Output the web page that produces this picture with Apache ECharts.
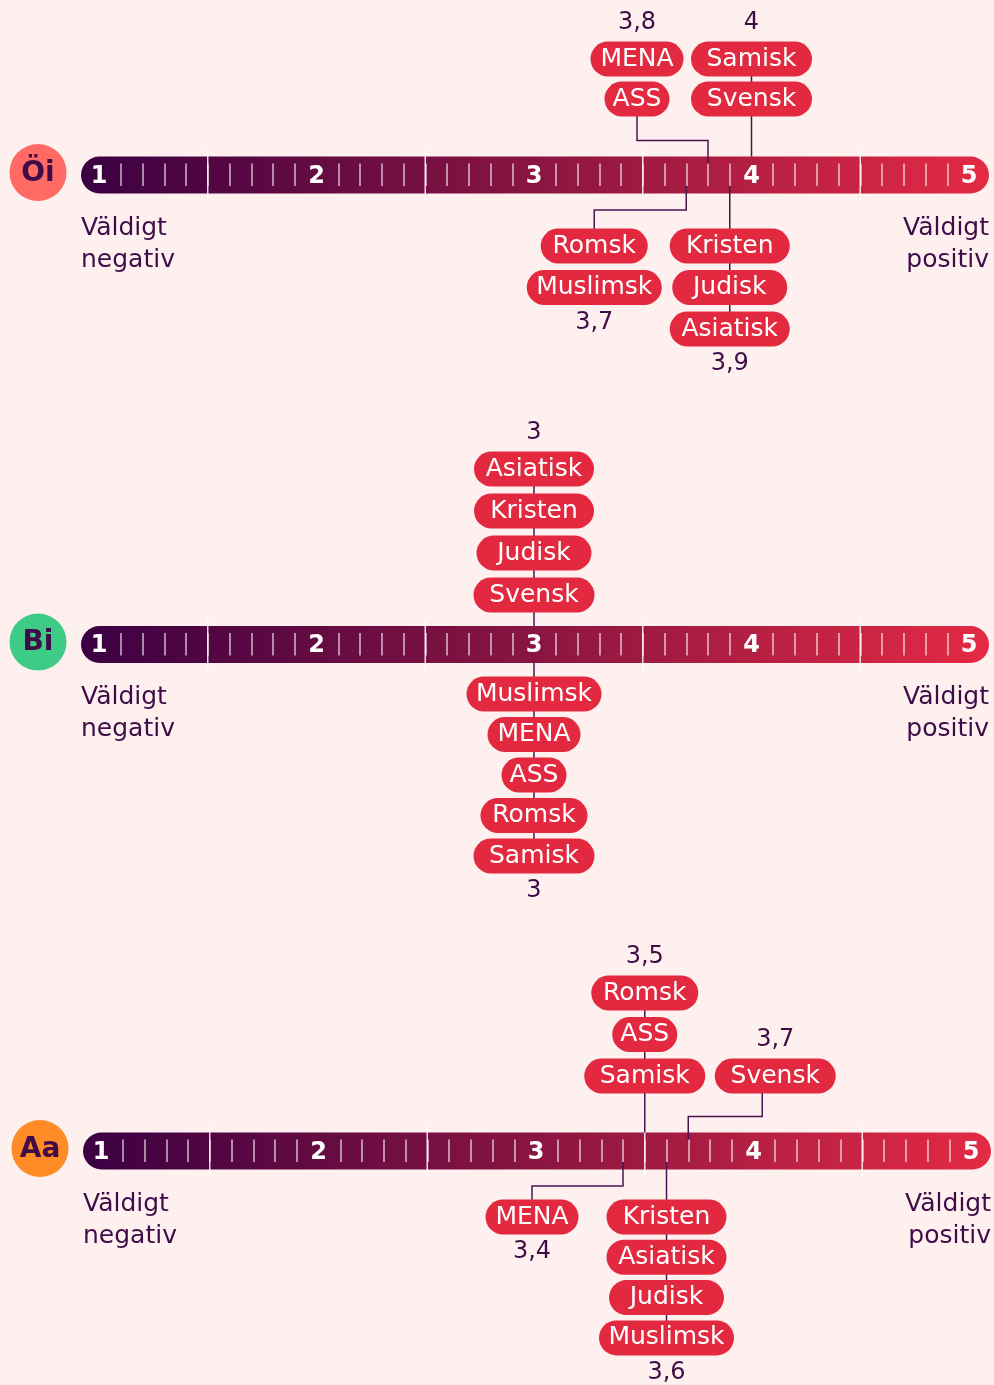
<!DOCTYPE html>
<html>
<head>
<meta charset="utf-8">
<title>Attityder</title>
<script src="https://cdn.jsdelivr.net/npm/echarts@6/dist/echarts.min.js"></script>
<style>
  html, body { margin: 0; padding: 0; background: #fdf0ef; }
  #main { width: 994px; height: 1385px; }
</style>
</head>
<body>
<div id="main"></div>
<script>
// skalan
var scaleMin = 1, scaleMax = 5;
var scaleLabels = ['1', '2', '3', '4', '5'];
var sectionBreaks = [1.5, 2.5, 3.5, 4.5];
var endLabels = ['Väldigt\nnegativ', 'Väldigt\npositiv'];

// Öi
var oiValues = [3.8, 4, 3.7, 3.9];
var oiSides = ['up', 'up', 'down', 'down'];
var oiLabels = [['MENA', 'ASS'], ['Samisk', 'Svensk'], ['Romsk', 'Muslimsk'], ['Kristen', 'Judisk', 'Asiatisk']];

// Bi
var biValues = [3, 3];
var biSides = ['up', 'down'];
var biLabels = [['Asiatisk', 'Kristen', 'Judisk', 'Svensk'], ['Muslimsk', 'MENA', 'ASS', 'Romsk', 'Samisk']];

// Aa
var aaValues = [3.5, 3.7, 3.4, 3.6];
var aaSides = ['up', 'up', 'down', 'down'];
var aaLabels = [['Romsk', 'ASS', 'Samisk'], ['Svensk'], ['MENA'], ['Kristen', 'Asiatisk', 'Judisk', 'Muslimsk']];

var panels = [
    {name: 'Öi', values: oiValues, sides: oiSides, labels: oiLabels},
    {name: 'Bi', values: biValues, sides: biSides, labels: biLabels},
    {name: 'Aa', values: aaValues, sides: aaSides, labels: aaLabels}
];

// placering (px) per panel
var layout = [
    {top: 150, left: 99, badge: '#ff6b64', shift: [-71, 0, -92, 0], stem: [0, 0, 0, 0], gapUp: 77, gapDown: 70, rowUp: 40, rowDown: 41.5},
    {top: 619.5, left: 99, badge: '#3dcb85', shift: [0, 0], stem: [0, 0], gapUp: 50.5, gapDown: 48.5, rowUp: 42, rowDown: 40.5},
    {top: 1126, left: 101, badge: '#ff8b26', shift: [0, 87, -91, 0], stem: [0, -13, 0, 0], gapUp: 76, gapDown: 65, rowUp: 41.5, rowDown: 40.3}
];

var font = 'DejaVu Sans';
var ink = '#3f0c48';
var lineInk = '#4b1450';
var pillRed = '#e3293f';
var pillWidth = {MENA: 93, ASS: 65, Romsk: 107, Muslimsk: 135, Samisk: 121, Svensk: 121, Kristen: 120, Asiatisk: 120, Judisk: 115};

function fmt(v) {
    return String(Math.round(v * 10) / 10).replace('.', ',');
}

var grids = [], xAxes = [], yAxes = [], series = [];

panels.forEach(function (p, i) {
    var L = layout[i];
    grids.push({left: L.left, top: L.top, width: 870, height: 50, outerBoundsMode: 'none'});
    xAxes.push({
        gridIndex: i, type: 'value', min: scaleMin, max: scaleMax, interval: 1,
        offset: -14, z: 3,
        axisLine: {show: false},
        axisTick: {show: false, inside: true},
        splitLine: {show: false},
        minorTick: {show: true, splitNumber: 10, length: 22.5, lineStyle: {color: 'rgba(255,255,255,0.72)', width: 1.5}},
        minorSplitLine: {show: false},
        axisLabel: {
            inside: true, margin: 9.5, verticalAlign: 'middle', color: '#fff',
            fontFamily: font, fontWeight: 'bold', fontSize: 24,
            showMinLabel: true, showMaxLabel: true,
            formatter: function (v) { return scaleLabels[Math.round(v) - scaleMin]; }
        }
    });
    yAxes.push({gridIndex: i, type: 'value', min: 0, max: 1, show: false});

    // stapeln med ikon och ändtexter
    series.push({
        type: 'custom', name: p.name, xAxisIndex: i, yAxisIndex: i, z: 1, silent: true,
        data: [[scaleMin, scaleMax]],
        renderItem: function (params, api) {
            var a = api.coord([api.value(0), 0.5]);
            var b = api.coord([api.value(1), 0.5]);
            var x0 = a[0] - 18, x1 = b[0] + 20, cy = a[1];
            return {type: 'group', children: [
                {type: 'rect', shape: {x: x0, y: cy - 18.5, width: x1 - x0, height: 37, r: 18.5},
                 style: {fill: new echarts.graphic.LinearGradient(0, 0, 1, 0, [
                     {offset: 0, color: '#3b0043'},
                     {offset: 0.5, color: '#8a1541'},
                     {offset: 1, color: '#e42a44'}
                 ])}},
                {type: 'circle', shape: {cx: x0 - 43, cy: cy - 2.5, r: 28.5}, style: {fill: L.badge}},
                {type: 'text', x: x0 - 43, y: cy - 1.5,
                 style: {text: p.name, fill: ink, fontFamily: font, fontWeight: 'bold', fontSize: 28, align: 'center', verticalAlign: 'middle'}},
                {type: 'text', x: x0, y: cy + 37,
                 style: {text: endLabels[0], fill: ink, fontFamily: font, fontSize: 25, lineHeight: 32, align: 'left', verticalAlign: 'top'}},
                {type: 'text', x: x1, y: cy + 37,
                 style: {text: endLabels[1], fill: ink, fontFamily: font, fontSize: 25, lineHeight: 32, align: 'right', verticalAlign: 'top'}}
            ]};
        }
    });

    // avsnittslinjer
    series.push({
        type: 'custom', xAxisIndex: i, yAxisIndex: i, z: 4, silent: true,
        data: sectionBreaks.map(function (v) { return [v, 0.5]; }),
        renderItem: function (params, api) {
            var t = api.coord([api.value(0), 1]);
            var b = api.coord([api.value(0), 0]);
            return {type: 'line', shape: {x1: t[0], y1: t[1], x2: b[0], y2: b[1]},
                    style: {stroke: 'rgba(255,255,255,0.85)', lineWidth: 1.5}};
        }
    });

    // grupper med etiketter
    series.push({
        type: 'custom', xAxisIndex: i, yAxisIndex: i, z: 5, silent: true,
        data: p.values.map(function (v, k) { return [v, k]; }),
        renderItem: function (params, api) {
            var v = api.value(0), k = api.value(1);
            var pt = api.coord([v, 0.5]);
            var xv = pt[0], cy = pt[1];
            var up = p.sides[k] === 'up';
            var names = p.labels[k];
            var n = names.length;
            var px = xv + L.shift[k];
            var sx = px + L.stem[k];
            var ys = names.map(function (nm, j) {
                return up ? cy - L.gapUp - (n - 1 - j) * L.rowUp : cy + L.gapDown + j * L.rowDown;
            });
            var farY = up ? ys[0] : ys[n - 1];
            var atEdge = Math.abs(v - Math.round(v)) < 1e-6 ||
                sectionBreaks.some(function (s) { return Math.abs(s - v) < 1e-6; });
            var startY = up ? cy - (atEdge ? 18.5 : 11.5) : cy + (atEdge ? 18.5 : 11);
            var pts;
            if (sx === xv) {
                pts = [[xv, startY], [xv, farY]];
            } else {
                var ey = up ? cy - 34.5 : cy + 35;
                pts = [[xv, startY], [xv, ey], [sx, ey], [sx, up ? ys[n - 1] : ys[0]]];
            }
            var children = [{type: 'polyline', shape: {points: pts}, style: {stroke: lineInk, lineWidth: 1.5, fill: null}}];
            names.forEach(function (nm, j) {
                children.push({type: 'text', x: px, y: ys[j] + 1, style: {
                    text: nm, fill: '#fff', fontFamily: font, fontSize: 25,
                    align: 'center', verticalAlign: 'middle', lineHeight: 29,
                    backgroundColor: pillRed, borderRadius: 17.5, padding: [3, 0], width: pillWidth[nm]
                }});
            });
            children.push({type: 'text', x: px, y: up ? farY - 35 : farY + 36, style: {
                text: fmt(v), fill: ink, fontFamily: font, fontSize: 24, align: 'center', verticalAlign: 'middle'
            }});
            return {type: 'group', children: children};
        }
    });
});

var myChart = echarts.init(document.getElementById('main'));
myChart.setOption({
    backgroundColor: '#fdf0ef',
    animation: false,
    textStyle: {fontFamily: font},
    grid: grids,
    xAxis: xAxes,
    yAxis: yAxes,
    series: series
});
</script>
</body>
</html>
